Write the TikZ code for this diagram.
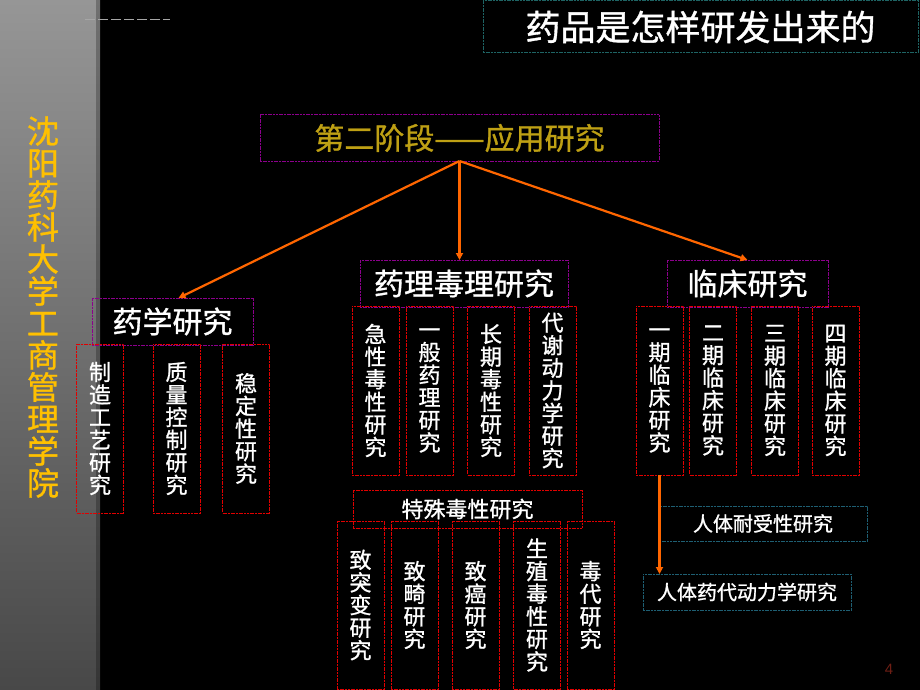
\documentclass[tikz,border=0pt]{standalone}
\usepackage{fontspec}
\newfontfamily\cjk[FakeBold=1]{Noto Sans CJK SC}
\newfontfamily\latinsans{Liberation Sans}
\usetikzlibrary{arrows.meta,calc}
\definecolor{boxred}{RGB}{225,0,0}
\definecolor{boxpurple}{RGB}{140,0,140}
\definecolor{boxteal}{RGB}{30,95,115}
\definecolor{titleteal}{RGB}{30,100,100}
\definecolor{arroworange}{RGB}{255,102,0}
\definecolor{schoolgold}{RGB}{255,192,0}
\definecolor{stageolive}{RGB}{190,160,20}
\definecolor{pagenum}{RGB}{110,30,20}
\definecolor{bartop}{RGB}{150,150,150}
\definecolor{barbottom}{RGB}{72,72,72}
\begin{document}
\begin{tikzpicture}[x=1pt,y=-1pt,
  every node/.style={inner sep=0pt,outer sep=0pt},
  boxline/.style={line width=1pt,dash pattern=on 2pt off 0.7pt},
  redcol/.style={boxline,draw=boxred,text=white,align=center,
    minimum width=47pt,minimum height=169pt,
    font=\cjk\fontsize{22}{22.6}\selectfont},
  headbox/.style={boxline,draw=boxpurple,text=white,
    font=\cjk\fontsize{30}{32}\selectfont},
  tealbox/.style={boxline,draw=boxteal,text=white,
    minimum width=208pt,font=\cjk\fontsize{20}{22}\selectfont},
  arr/.style={draw=arroworange,line width=2.2pt,
    -{Triangle[length=7pt,width=7pt,fill=arroworange]}}
]
% background
\fill[black] (0,0) rectangle (920,690);
\shade[top color=bartop,bottom color=barbottom] (0,0) rectangle (100,690);
\fill[black,opacity=0.25] (96,0) rectangle (101,690);
\draw[gray!70,line width=0.8pt,dash pattern=on 10pt off 3pt] (85,19) -- (170,19);

% school name
\node[text=schoolgold,align=center,font=\cjk\fontsize{32}{32}\selectfont] (school) at (43,307)
  {沈\\阳\\药\\科\\大\\学\\工\\商\\管\\理\\学\\院};

% title
\node[boxline,draw=titleteal,text=white,minimum width=435pt,minimum height=52pt,
  font=\cjk\fontsize{35}{36}\selectfont] (title) at (700.5,27) {药品是怎样研发出来的};

% stage box
\node[boxline,draw=boxpurple,text=stageolive,minimum width=399pt,minimum height=46pt,
  font=\cjk\fontsize{30}{32}\selectfont] (stage) at (459.5,138) {第二阶段——应用研究};

% heads
\node[headbox,minimum width=161pt,minimum height=47pt] (yx) at (172.5,321.5) {药学研究};
\node[headbox,minimum width=208pt,minimum height=47pt] (yl) at (464,283.5) {药理毒理研究};
\node[headbox,minimum width=161pt,minimum height=47pt] (lc) at (747.5,283.5) {临床研究};

% pharmacy columns
\node[redcol] (yx1) at (100,428.5) {制\\造\\工\\艺\\研\\究};
\node[redcol] (yx2) at (176.5,428.5) {质\\量\\控\\制\\研\\究};
\node[redcol] (yx3) at (246,428.5) {稳\\定\\性\\研\\究};

% pharmacology columns
\node[redcol] (yl1) at (375.5,390.5) {急\\性\\毒\\性\\研\\究};
\node[redcol] (yl2) at (429.5,390.5) {一\\般\\药\\理\\研\\究};
\node[redcol] (yl3) at (491,390.5) {长\\期\\毒\\性\\研\\究};
\node[redcol] (yl4) at (552.5,390.5) {代\\谢\\动\\力\\学\\研\\究};

% clinical columns
\node[redcol] (q1) at (659.5,390.5) {一\\期\\临\\床\\研\\究};
\node[redcol] (q2) at (713,390.5) {二\\期\\临\\床\\研\\究};
\node[redcol] (q3) at (775,390.5) {三\\期\\临\\床\\研\\究};
\node[redcol] (q4) at (835.5,390.5) {四\\期\\临\\床\\研\\究};

% special toxicity
\node[boxline,draw=boxred,text=white,minimum width=229pt,minimum height=38pt,
  font=\cjk\fontsize{22}{24}\selectfont] (ts) at (467.5,509) {特殊毒性研究};
\node[redcol,minimum height=168pt] (ts1) at (360.5,605) {致\\突\\变\\研\\究};
\node[redcol,minimum height=168pt] (ts2) at (414.5,605) {致\\畸\\研\\究};
\node[redcol,minimum height=168pt] (ts3) at (475.5,605) {致\\癌\\研\\究};
\node[redcol,minimum height=168pt] (ts4) at (537,605) {生\\殖\\毒\\性\\研\\究};
\node[redcol,minimum height=168pt] (ts5) at (590.5,605) {毒\\代\\研\\究};

% human studies
\node[tealbox,minimum height=35pt] (rt1) at (763,523.5) {人体耐受性研究};
\node[tealbox,minimum height=36pt] (rt2) at (747,592) {人体药代动力学研究};

% page number
\node[text=pagenum,font=\latinsans\fontsize{15}{16}\selectfont] (page) at (889,669) {4};

% arrows
\draw[arr] (stage.south) -- ($(yx.north)+(6,0)$);
\draw[arr] (stage.south) -- (stage.south |- yl.north);
\draw[arr] (stage.south) -- (lc.north);
\draw[arr] (q1.south) -- (q1.south |- rt2.north);
\end{tikzpicture}
\end{document}
